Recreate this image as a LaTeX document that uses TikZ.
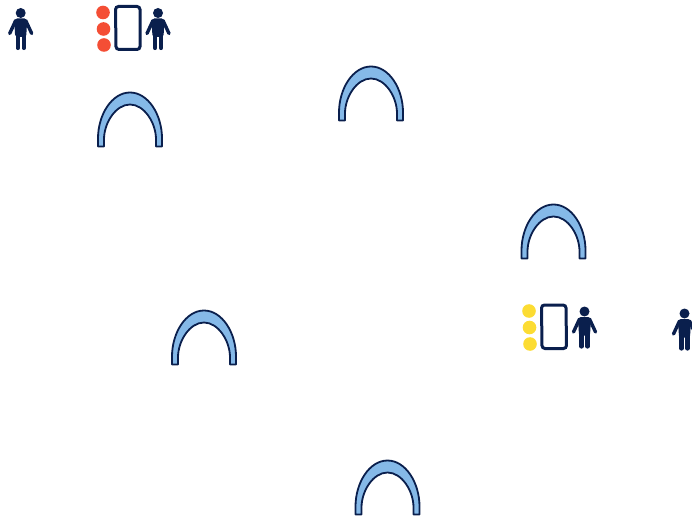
\documentclass[tikz,border=0pt]{standalone}
\definecolor{navy}{HTML}{0A1F4D}
\definecolor{archblue}{HTML}{85B9E8}
\definecolor{redorange}{HTML}{F44E35}
\definecolor{sun}{HTML}{FCDC33}
\tikzset{
  archshape/.pic={
    \draw[navy,fill=archblue,line width=1.8pt,line join=round]
      (-32,54) -- (-32,46) .. controls (-32,22) and (-18,0) .. (0,0)
      .. controls (18,0) and (32,22) .. (32,46) -- (32,54) -- (26,54) -- (26,47)
      .. controls (26,30) and (14,12) .. (0,12)
      .. controls (-14,12) and (-26,30) .. (-26,47) -- (-26,54) -- cycle;
  },
  person/.pic={
    \fill[navy] (0,0) circle (5);
    \fill[navy,rounded corners=2pt] (-5.8,5.5) -- (5.8,5.5) -- (6.2,12) -- (5.5,24) -- (-5.5,24) -- (-6.2,12) -- cycle;
    \draw[navy,line width=3.4pt,line cap=round,line join=round]
      (-5,7.5) -- (-11,20.5) (5,7.5) -- (11,20.5);
    \draw[navy,line width=4.2pt,line cap=round] (-3,22) -- (-3,35) (3,22) -- (3,35);
  },
  door/.style={navy,line width=3pt,rounded corners=3pt},
  reddot/.style={fill=redorange},
  yellowdot/.style={fill=sun}
}
\begin{document}
\begin{tikzpicture}[x=1pt,y=-1pt]
\useasboundingbox (0,0) rectangle (692,518);
\pic at (130,92.5) {archshape};
\pic at (371,66.5) {archshape};
\pic at (553.5,204.5) {archshape};
\pic at (204,310.5) {archshape};
\pic at (387.5,460.5) {archshape};
\pic at (20.7,13) {person};
\pic at (158,13) {person};
\pic at (584.5,311.5) {person};
\pic at (684.5,313.5) {person};
\fill[reddot] (103,12.5) circle (6.8);
\fill[reddot] (103.5,29) circle (6.8);
\fill[reddot] (104,45) circle (6.8);
\draw[door] (115.5,6.5) -- (140,6.5) -- (140,49.5) -- (116,49.5) -- cycle;
\fill[yellowdot] (529,311) circle (6.8);
\fill[yellowdot] (529.5,327.5) circle (6.8);
\fill[yellowdot] (530,344) circle (6.8);
\draw[door] (541.5,305) -- (566,305) -- (566.5,348.5) -- (542,348.5) -- cycle;
\end{tikzpicture}
\end{document}
